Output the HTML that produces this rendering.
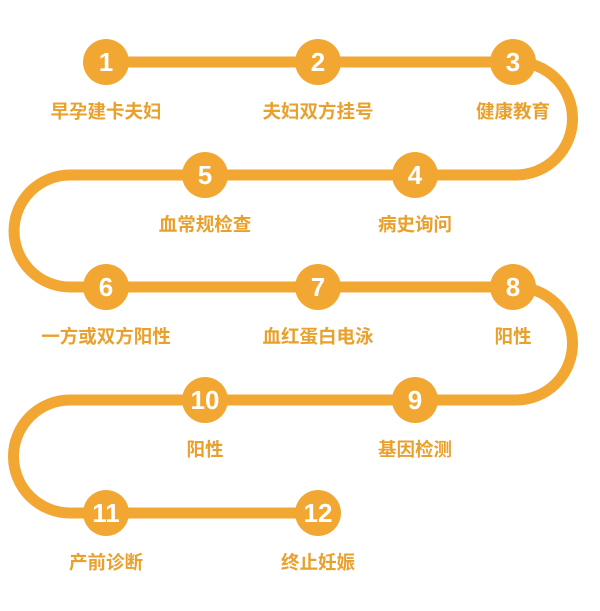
<!DOCTYPE html>
<html><head><meta charset="utf-8"><style>
body{margin:0;background:#fff;width:600px;height:606px;overflow:hidden}
svg text{font-family:"Liberation Sans","Noto Sans CJK SC",sans-serif}
</style></head><body>
<svg width="600" height="606" viewBox="0 0 600 606">
<path d="M106 62 H516 A56.5 56.5 0 0 1 516 175 H70 A56 56 0 0 0 70 287 H516 A56.5 56.5 0 0 1 516 400 H70 A56.5 56.5 0 0 0 70 513 H318" fill="none" stroke="#f2a733" stroke-width="11"/>
<g fill="#f2a733">
<circle cx="106" cy="62" r="23"/><circle cx="318" cy="62" r="23"/><circle cx="513" cy="62" r="23"/>
<circle cx="205" cy="175" r="23"/><circle cx="415" cy="175" r="23"/>
<circle cx="106" cy="287" r="23"/><circle cx="318" cy="287" r="23"/><circle cx="513" cy="287" r="23"/>
<circle cx="205" cy="400" r="23"/><circle cx="415" cy="400" r="23"/>
<circle cx="106" cy="513" r="23"/><circle cx="318" cy="513" r="23"/>
</g>
<g fill="#fff" font-size="26" font-weight="bold" text-anchor="middle">
<text x="106" y="71">1</text><text x="318" y="71">2</text><text x="513" y="71">3</text>
<text x="205" y="184">5</text><text x="415" y="184">4</text>
<text x="106" y="296">6</text><text x="318" y="296">7</text><text x="513" y="296">8</text>
<text x="205" y="409">10</text><text x="415" y="409">9</text>
<text x="106" y="522">11</text><text x="318" y="522">12</text>
</g>
<g fill="#e9a02c" font-size="18.5" font-weight="bold" text-anchor="middle">
<text x="106" y="118">早孕建卡夫妇</text><text x="318" y="118">夫妇双方挂号</text><text x="513" y="118">健康教育</text>
<text x="205" y="231">血常规检查</text><text x="415" y="231">病史询问</text>
<text x="106" y="343">一方或双方阳性</text><text x="318" y="343">血红蛋白电泳</text><text x="513" y="343">阳性</text>
<text x="205" y="456">阳性</text><text x="415" y="456">基因检测</text>
<text x="106" y="569">产前诊断</text><text x="318" y="569">终止妊娠</text>
</g>
</svg>
</body></html>
